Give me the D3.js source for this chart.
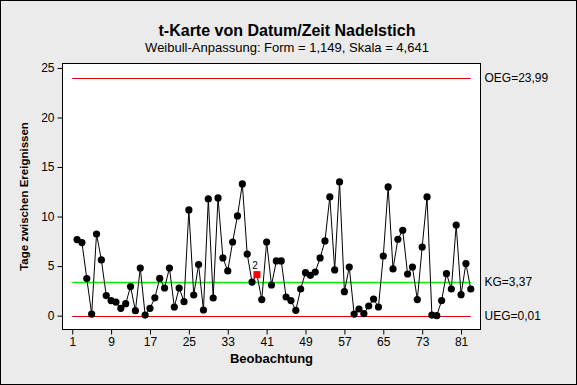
<!DOCTYPE html>
<html>
<head>
<meta charset="utf-8">
<script src="https://cdn.jsdelivr.net/npm/d3@7"></script>
<style>
  html, body { margin: 0; padding: 0; background: #ebebeb; }
  svg { display: block; font-family: "Liberation Sans", Arial, sans-serif; }
</style>
</head>
<body>
<div id="chart"></div>
<script>
// Tage zwischen Ereignissen, Beobachtung 1 fehlt (t-Karte)
const firstObs = 2;
const values = [
    7.68, 7.37, 3.74, 0.16, 8.24, 5.62, 2.02, 1.52, 1.37, 0.74,
    1.21, 2.93, 0.50, 4.81, 0.06, 0.74, 1.80, 3.76, 2.79, 4.81,
    0.87, 2.79, 1.41, 10.67, 2.08, 5.15, 0.57, 11.78, 1.78, 11.88,
    5.82, 4.51, 7.43, 10.06, 13.29, 6.22, 3.39, 4.14, 1.62, 7.43,
    3.09, 5.52, 5.52, 1.88, 1.52, 0.54, 2.69, 4.34, 4.07, 4.40,
    5.82, 7.54, 11.98, 4.61, 13.50, 2.42, 4.91, 0.16, 0.67, 0.20,
    0.97, 1.68, 0.87, 6.02, 12.99, 4.71, 7.71, 8.62, 4.20, 4.91,
    1.62, 6.93, 11.98, 0.06, 0.00, 1.52, 4.24, 2.69, 9.15, 2.12,
    5.25, 2.69
];
const flagged = [{ obs: 39, test: '2' }];
const limits = [
    { name: 'OEG', value: 23.99, label: 'OEG=23,99', color: '#e00000' },
    { name: 'KG', value: 3.37, label: 'KG=3,37', color: '#00ee00' },
    { name: 'UEG', value: 0.01, label: 'UEG=0,01', color: '#e00000' }
];
const xTicks = [1, 9, 17, 25, 33, 41, 49, 57, 65, 73, 81];
const yTicks = [0, 5, 10, 15, 20, 25];
const limitRange = [1, 83];

const width = 577, height = 385;
const frame = { left: 62.5, right: 480.5, top: 63.5, bottom: 329.5 };

const data = values.map((v, i) => ({ obs: firstObs + i, value: v }));

const x = d3.scaleLinear().domain([-1, 85]).range([frame.left, frame.right]);
const y = d3.scaleLinear().domain([-1.4, 25.45]).range([frame.bottom, frame.top]);

const svg = d3.select('#chart').append('svg')
    .attr('width', width)
    .attr('height', height);

svg.append('rect')
    .attr('x', 0.5).attr('y', 0.5)
    .attr('width', width - 1).attr('height', height - 1)
    .attr('fill', '#ebebeb')
    .attr('stroke', '#000');

svg.append('rect')
    .attr('x', frame.left).attr('y', frame.top)
    .attr('width', frame.right - frame.left)
    .attr('height', frame.bottom - frame.top)
    .attr('fill', '#fff');

// titles
svg.append('text')
    .attr('x', 287).attr('y', 36)
    .attr('text-anchor', 'middle')
    .style('font-size', '16px')
    .style('font-weight', 'bold')
    .text('t-Karte von Datum/Zeit Nadelstich');

svg.append('text')
    .attr('x', 287).attr('y', 52)
    .attr('text-anchor', 'middle')
    .style('font-size', '13px')
    .text('Weibull-Anpassung: Form = 1,149, Skala = 4,641');

// axes
const xAxis = d3.axisBottom(x).tickValues(xTicks).tickSize(5).tickPadding(3);
const yAxis = d3.axisLeft(y).tickValues(yTicks).tickSize(5).tickPadding(3);

const gx = svg.append('g')
    .attr('transform', `translate(0,${frame.bottom})`)
    .call(xAxis);
const gy = svg.append('g')
    .attr('transform', `translate(${frame.left},0)`)
    .call(yAxis);

[gx, gy].forEach(g => {
    g.select('.domain').remove();
    g.selectAll('line').attr('stroke', '#000');
    g.selectAll('text').attr('fill', '#000').style('font-size', '12px');
});

svg.append('text')
    .attr('x', (frame.left + frame.right) / 2).attr('y', 363)
    .attr('text-anchor', 'middle')
    .style('font-size', '13px')
    .style('font-weight', 'bold')
    .text('Beobachtung');

svg.append('text')
    .attr('transform', `translate(28,${(frame.top + frame.bottom) / 2}) rotate(-90)`)
    .attr('text-anchor', 'middle')
    .style('font-size', '11.5px')
    .style('font-weight', 'bold')
    .text('Tage zwischen Ereignissen');

// control limits
svg.append('g').selectAll('line')
    .data(limits)
    .join('line')
    .attr('x1', x(limitRange[0]))
    .attr('x2', x(limitRange[1]))
    .attr('y1', d => Math.round(y(d.value)) + 0.5)
    .attr('y2', d => Math.round(y(d.value)) + 0.5)
    .attr('stroke', d => d.color)
    .attr('stroke-width', d => d.name === 'KG' ? 1.5 : 1);

svg.append('g').selectAll('text')
    .data(limits)
    .join('text')
    .attr('x', frame.right + 4)
    .attr('y', d => y(d.value) + 4)
    .style('font-size', '12px')
    .text(d => d.label);

// data line
const line = d3.line()
    .x(d => x(d.obs))
    .y(d => y(d.value));

svg.append('path')
    .datum(data)
    .attr('fill', 'none')
    .attr('stroke', '#000')
    .attr('stroke-width', 1)
    .attr('d', line);

const flaggedObs = new Set(flagged.map(f => f.obs));

svg.append('g').selectAll('circle')
    .data(data.filter(d => !flaggedObs.has(d.obs)))
    .join('circle')
    .attr('cx', d => x(d.obs))
    .attr('cy', d => y(d.value))
    .attr('r', 3.6)
    .attr('fill', '#000');

const flagG = svg.append('g').selectAll('g')
    .data(flagged.map(f => ({ ...f, value: data.find(d => d.obs === f.obs).value })))
    .join('g');

flagG.append('rect')
    .attr('x', d => x(d.obs) - 3.5)
    .attr('y', d => y(d.value) - 3.5)
    .attr('width', 7)
    .attr('height', 7)
    .attr('fill', '#ff0000');

flagG.append('text')
    .attr('x', d => x(d.obs) - 2)
    .attr('y', d => y(d.value) - 6)
    .attr('text-anchor', 'middle')
    .style('font-size', '10px')
    .text(d => d.test);

// plot frame on top
svg.append('rect')
    .attr('x', frame.left).attr('y', frame.top)
    .attr('width', frame.right - frame.left)
    .attr('height', frame.bottom - frame.top)
    .attr('fill', 'none')
    .attr('stroke', '#000');
</script>
</body>
</html>
